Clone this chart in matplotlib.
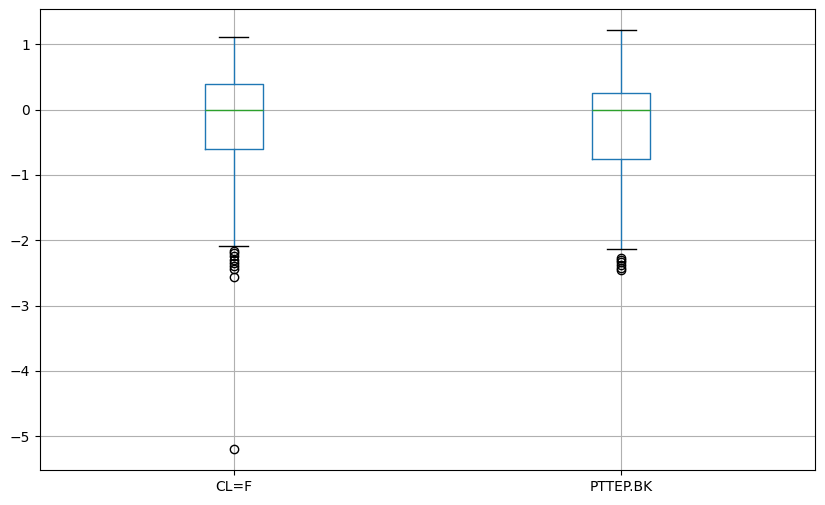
import matplotlib
matplotlib.use("Agg")
from matplotlib import pyplot as plt

# box statistics
labels = ["CL=F", "PTTEP.BK"]
medians = [0.0, 0.0]
q1 = [-0.60, -0.76]
q3 = [0.40, 0.26]
whis_lo = [-2.09, -2.14]
whis_hi = [1.12, 1.22]
fliers_clf = [-2.17, -2.20, -2.24, -2.30, -2.35, -2.40, -2.44, -2.56, -5.20]
fliers_pttep = [-2.27, -2.30, -2.34, -2.38, -2.42, -2.46]
fliers = [fliers_clf, fliers_pttep]

stats = []
for i in range(len(labels)):
    stats.append({
        "label": labels[i],
        "med": medians[i],
        "q1": q1[i],
        "q3": q3[i],
        "whislo": whis_lo[i],
        "whishi": whis_hi[i],
        "fliers": fliers[i],
    })

fig, ax = plt.subplots(figsize=(8.25, 5.05), dpi=100)
fig.subplots_adjust(left=0.0485, right=0.988, top=0.982, bottom=0.069)

ax.bxp(
    stats,
    boxprops=dict(color="C0"),
    whiskerprops=dict(color="C0"),
    medianprops=dict(color="C2"),
    capprops=dict(color="k"),
)
ax.grid(True)

plt.savefig("out.png", dpi=100)
